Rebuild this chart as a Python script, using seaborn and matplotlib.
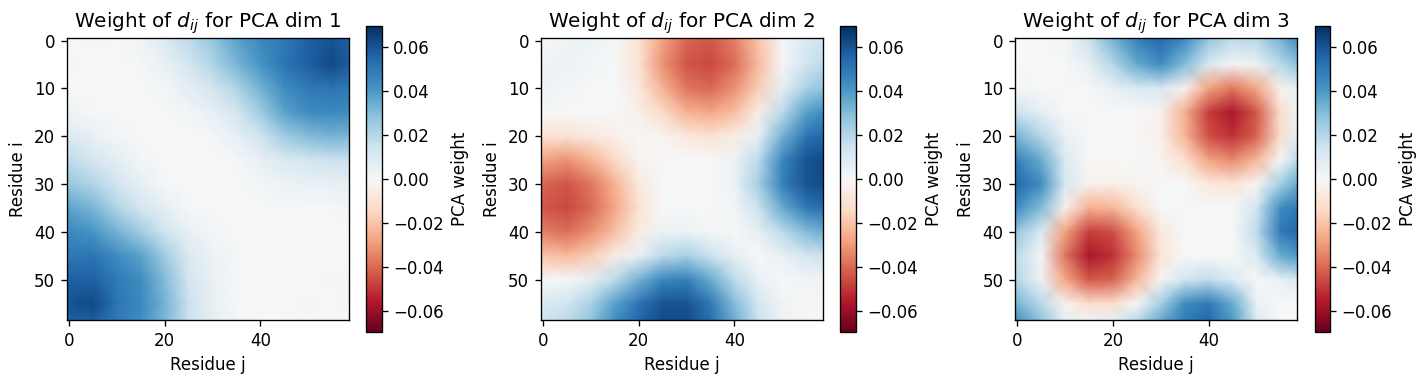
import numpy as np
import seaborn as sns
import matplotlib
matplotlib.use('Agg')
import matplotlib.pyplot as plt

residues = [-0.5, 5, 10, 15, 20, 25, 30, 35, 40, 45, 50, 55, 58.5]

dims = [1, 2, 3]

w_dim1 = [
    [0.000, -0.001, 0.000, 0.003, 0.010, 0.019, 0.027, 0.038, 0.045, 0.050, 0.057, 0.060, 0.057],
    [-0.001, 0.000, 0.000, 0.001, 0.005, 0.012, 0.021, 0.032, 0.041, 0.051, 0.057, 0.063, 0.058],
    [0.000, 0.000, 0.000, 0.000, 0.002, 0.007, 0.013, 0.021, 0.033, 0.044, 0.049, 0.051, 0.049],
    [0.003, 0.001, 0.000, 0.000, 0.000, 0.002, 0.006, 0.012, 0.024, 0.037, 0.044, 0.045, 0.044],
    [0.010, 0.005, 0.002, 0.000, 0.000, 0.000, 0.001, 0.006, 0.014, 0.025, 0.030, 0.033, 0.032],
    [0.019, 0.012, 0.007, 0.002, 0.000, 0.000, 0.000, 0.001, 0.005, 0.010, 0.013, 0.015, 0.015],
    [0.027, 0.021, 0.013, 0.006, 0.001, 0.000, 0.000, 0.000, 0.002, 0.004, 0.005, 0.005, 0.006],
    [0.038, 0.032, 0.021, 0.012, 0.006, 0.001, 0.000, 0.000, 0.000, 0.001, 0.001, 0.001, 0.002],
    [0.045, 0.041, 0.033, 0.024, 0.014, 0.005, 0.002, 0.000, 0.000, 0.000, 0.000, 0.000, 0.000],
    [0.050, 0.051, 0.044, 0.037, 0.025, 0.010, 0.004, 0.001, 0.000, 0.000, 0.000, 0.000, 0.000],
    [0.057, 0.057, 0.049, 0.044, 0.030, 0.013, 0.005, 0.001, 0.000, 0.000, 0.000, -0.001, -0.001],
    [0.060, 0.063, 0.051, 0.045, 0.033, 0.015, 0.005, 0.001, 0.000, 0.000, -0.001, 0.000, -0.001],
    [0.057, 0.058, 0.049, 0.044, 0.032, 0.015, 0.006, 0.002, 0.000, 0.000, -0.001, -0.001, 0.000],
]

w_dim2 = [
    [0.000, 0.003, 0.004, 0.000, -0.010, -0.028, -0.040, -0.043, -0.035, -0.020, 0.001, 0.010, 0.014],
    [0.003, 0.004, 0.002, 0.000, -0.010, -0.031, -0.044, -0.046, -0.039, -0.022, 0.001, 0.014, 0.018],
    [0.004, 0.002, 0.000, 0.000, -0.007, -0.024, -0.037, -0.040, -0.032, -0.017, 0.006, 0.022, 0.028],
    [0.000, 0.000, 0.000, 0.000, -0.004, -0.014, -0.024, -0.027, -0.021, -0.005, 0.018, 0.038, 0.043],
    [-0.010, -0.010, -0.007, -0.004, 0.000, -0.002, -0.007, -0.010, -0.005, 0.005, 0.033, 0.051, 0.055],
    [-0.028, -0.031, -0.024, -0.014, -0.002, 0.000, 0.000, 0.000, 0.004, 0.019, 0.045, 0.060, 0.062],
    [-0.040, -0.044, -0.037, -0.024, -0.007, 0.000, 0.000, 0.000, 0.004, 0.023, 0.047, 0.060, 0.062],
    [-0.043, -0.046, -0.040, -0.027, -0.010, 0.000, 0.000, 0.000, 0.002, 0.015, 0.035, 0.050, 0.053],
    [-0.035, -0.039, -0.032, -0.021, -0.005, 0.004, 0.004, 0.002, 0.000, 0.006, 0.018, 0.030, 0.034],
    [-0.020, -0.022, -0.017, -0.005, 0.005, 0.019, 0.023, 0.015, 0.006, 0.000, 0.005, 0.012, 0.015],
    [0.001, 0.001, 0.006, 0.018, 0.033, 0.045, 0.047, 0.035, 0.018, 0.005, 0.000, 0.003, 0.003],
    [0.010, 0.014, 0.022, 0.038, 0.051, 0.060, 0.060, 0.050, 0.030, 0.012, 0.003, 0.000, -0.002],
    [0.014, 0.018, 0.028, 0.043, 0.055, 0.062, 0.062, 0.053, 0.034, 0.015, 0.003, -0.002, 0.000],
]

w_dim3 = [
    [0.000, 0.000, 0.002, 0.015, 0.033, 0.048, 0.055, 0.045, 0.028, 0.018, 0.020, 0.033, 0.043],
    [0.000, 0.000, 0.000, 0.006, 0.020, 0.035, 0.043, 0.030, 0.010, 0.002, 0.004, 0.019, 0.028],
    [0.002, 0.000, 0.000, 0.001, 0.005, 0.010, 0.011, -0.003, -0.028, -0.037, -0.027, -0.003, 0.005],
    [0.015, 0.006, 0.001, 0.000, 0.000, 0.000, -0.003, -0.025, -0.048, -0.057, -0.043, -0.013, 0.003],
    [0.033, 0.020, 0.005, 0.000, 0.000, 0.000, -0.004, -0.023, -0.045, -0.051, -0.041, -0.012, 0.007],
    [0.048, 0.035, 0.010, 0.000, 0.000, 0.000, -0.002, -0.011, -0.028, -0.033, -0.023, 0.000, 0.018],
    [0.055, 0.043, 0.011, -0.003, -0.004, -0.002, 0.000, 0.000, -0.007, -0.009, -0.001, 0.023, 0.035],
    [0.045, 0.030, -0.003, -0.025, -0.023, -0.011, 0.000, 0.000, 0.000, 0.000, 0.013, 0.043, 0.050],
    [0.028, 0.010, -0.028, -0.048, -0.045, -0.028, -0.007, 0.000, 0.000, 0.000, 0.017, 0.049, 0.054],
    [0.018, 0.002, -0.037, -0.057, -0.051, -0.033, -0.009, 0.000, 0.000, 0.000, 0.010, 0.035, 0.040],
    [0.020, 0.004, -0.027, -0.043, -0.041, -0.023, -0.001, 0.013, 0.017, 0.010, 0.000, 0.005, 0.010],
    [0.033, 0.019, -0.003, -0.013, -0.012, 0.000, 0.023, 0.043, 0.049, 0.035, 0.005, 0.000, 0.000],
    [0.043, 0.028, 0.005, 0.003, 0.007, 0.018, 0.035, 0.050, 0.054, 0.040, 0.010, 0.000, 0.000],
]

weights = [w_dim1, w_dim2, w_dim3]
vlim = 0.0696

cmap = sns.color_palette('RdBu', as_cmap=True)

fig, axes = plt.subplots(1, 3, figsize=(11.875, 3.1667), dpi=120)
for ax, dim, w in zip(axes, dims, weights):
    mesh = ax.pcolormesh(residues, residues, np.array(w), shading='gouraud',
                         cmap=cmap, vmin=-vlim, vmax=vlim)
    ax.set_xlim(-0.5, 58.5)
    ax.set_ylim(58.5, -0.5)
    ax.set_aspect('equal')
    ax.set_xticks([0, 20, 40])
    ax.set_yticks(range(0, 60, 10))
    ax.set_title(f'Weight of $d_{{ij}}$ for PCA dim {dim}', fontsize=12)
    ax.set_xlabel('Residue j')
    ax.set_ylabel('Residue i')
    fig.colorbar(mesh, ax=ax, label='PCA weight')

fig.subplots_adjust(left=0.0468, right=0.9596, bottom=0.1255, top=0.9316, wspace=0.345)
fig.savefig('out.png', dpi=120)
